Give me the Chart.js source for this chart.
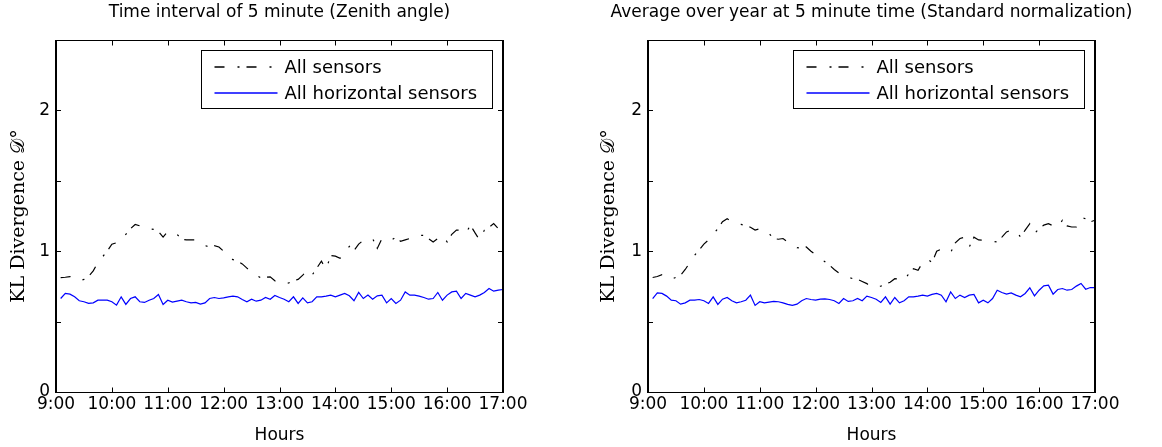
<!DOCTYPE html>
<html>
<head>
<meta charset="utf-8">
<title>KL Divergence over the day</title>
<script src="https://cdn.jsdelivr.net/npm/chart.js@4.4.1/dist/chart.umd.min.js"></script>
<style>
    html, body { margin: 0; padding: 0; background: #fff; }
    body { width: 1162px; height: 447px; position: relative; overflow: hidden; }
    .panel { position: absolute; top: 0; height: 447px; }
    #left-panel { left: 0; width: 559px; }
    #right-panel { left: 590px; width: 563px; }
</style>
</head>
<body>
<div class="panel" id="left-panel"><canvas id="chart-left"></canvas></div>
<div class="panel" id="right-panel"><canvas id="chart-right"></canvas></div>
<script>
// Samples every 5 minutes, first one at 9:05, last one at 17:00
const firstMinute = 545;
const stepMinutes = 5;
const xMin = 540;   // 9:00
const xMax = 1020;  // 17:00

const seriesNames = ['All sensors', 'All horizontal sensors'];
const seriesColors = ['#000000', '#0000ff'];
const panelTitles = [
    'Time interval of 5 minute (Zenith angle)',
    'Average over year at 5 minute time (Standard normalization)'
];
const yLabelTicks = [0, 1, 2];

// Left panel: zenith angle
const zenithAll = [
    0.813, 0.815, 0.820, 0.810, 0.790, 0.800, 0.820, 0.860, 0.920, 0.960,
    1.000, 1.050, 1.060, 1.075, 1.120, 1.160, 1.190, 1.180, 1.160, 1.160,
    1.155, 1.140, 1.100, 1.140, 1.135, 1.120, 1.085, 1.080, 1.080, 1.080,
    1.065, 1.040, 1.030, 1.040, 1.030, 1.000, 0.960, 0.940, 0.930, 0.910,
    0.880, 0.850, 0.830, 0.810, 0.815, 0.818, 0.790, 0.770, 0.770, 0.775,
    0.790, 0.800, 0.830, 0.865, 0.830, 0.880, 0.930, 0.870, 0.970, 0.965,
    0.950, 0.990, 1.035, 1.005, 1.050, 1.078, 1.085, 1.090, 1.020, 1.090,
    1.080, 1.078, 1.100, 1.070, 1.080, 1.090, 1.110, 1.113, 1.113, 1.090,
    1.066, 1.090, 1.113, 1.066, 1.120, 1.150, 1.150, 1.125, 1.185, 1.130,
    1.078, 1.150, 1.170, 1.196, 1.160, 1.160
];
const zenithHorizontal = [
    0.664, 0.700, 0.695, 0.676, 0.648, 0.641, 0.629, 0.633, 0.652, 0.652,
    0.652, 0.641, 0.617, 0.676, 0.622, 0.664, 0.676, 0.641, 0.636, 0.652,
    0.664, 0.693, 0.622, 0.652, 0.638, 0.645, 0.652, 0.641, 0.633, 0.636,
    0.624, 0.633, 0.664, 0.671, 0.664, 0.669, 0.676, 0.681, 0.676, 0.657,
    0.641, 0.659, 0.645, 0.652, 0.671, 0.659, 0.686, 0.671, 0.659, 0.641,
    0.676, 0.629, 0.669, 0.633, 0.641, 0.676, 0.676, 0.681, 0.688, 0.676,
    0.688, 0.700, 0.683, 0.648, 0.707, 0.664, 0.688, 0.659, 0.683, 0.688,
    0.633, 0.664, 0.629, 0.652, 0.711, 0.688, 0.688, 0.681, 0.671, 0.659,
    0.664, 0.707, 0.652, 0.688, 0.711, 0.716, 0.664, 0.700, 0.688, 0.676,
    0.688, 0.707, 0.735, 0.716, 0.723, 0.728
];

// Right panel: yearly average, standard normalization
const yearlyAll = [
    0.813, 0.820, 0.834, 0.820, 0.800, 0.815, 0.830, 0.870, 0.920, 0.970,
    1.010, 1.050, 1.080, 1.120, 1.160, 1.210, 1.230, 1.210, 1.195, 1.190,
    1.180, 1.170, 1.150, 1.160, 1.150, 1.125, 1.090, 1.085, 1.090, 1.065,
    1.050, 1.025, 1.020, 1.030, 1.000, 0.975, 0.950, 0.925, 0.900, 0.870,
    0.845, 0.825, 0.815, 0.805, 0.800, 0.785, 0.770, 0.743, 0.748, 0.752,
    0.765, 0.780, 0.805, 0.800, 0.790, 0.840, 0.875, 0.865, 0.920, 0.945,
    0.920, 1.000, 1.015, 1.005, 0.990, 1.060, 1.090, 1.100, 1.030, 1.100,
    1.080, 1.078, 1.078, 1.070, 1.065, 1.100, 1.137, 1.150, 1.150, 1.100,
    1.150, 1.196, 1.125, 1.160, 1.185, 1.196, 1.180, 1.170, 1.220, 1.180,
    1.172, 1.172, 1.240, 1.230, 1.208, 1.220
];
const yearlyHorizontal = [
    0.664, 0.704, 0.700, 0.681, 0.652, 0.648, 0.624, 0.633, 0.652, 0.652,
    0.657, 0.648, 0.629, 0.676, 0.622, 0.659, 0.671, 0.648, 0.633, 0.641,
    0.652, 0.688, 0.615, 0.641, 0.633, 0.638, 0.643, 0.641, 0.633, 0.622,
    0.615, 0.624, 0.648, 0.664, 0.657, 0.652, 0.659, 0.662, 0.657, 0.648,
    0.629, 0.664, 0.643, 0.648, 0.664, 0.648, 0.681, 0.671, 0.659, 0.636,
    0.676, 0.624, 0.671, 0.633, 0.648, 0.676, 0.676, 0.681, 0.688, 0.681,
    0.693, 0.700, 0.688, 0.641, 0.711, 0.664, 0.688, 0.671, 0.688, 0.693,
    0.633, 0.652, 0.633, 0.664, 0.723, 0.707, 0.695, 0.704, 0.688, 0.676,
    0.700, 0.740, 0.683, 0.723, 0.754, 0.759, 0.695, 0.728, 0.735, 0.723,
    0.728, 0.752, 0.771, 0.730, 0.742, 0.742
];

const SANS = '"DejaVu Sans", "Liberation Sans", Arial, sans-serif';
const SERIF = '"DejaVu Serif", "Liberation Serif", serif';
const TICK_LEN = 5;

// pair each value with its time of day (in minutes)
function toPoints(values) {
    return values.map((v, i) => ({ x: firstMinute + i * stepMinutes, y: v }));
}

function formatHour(value) {
    return Math.floor(value / 60) + ':00';
}

// MATLAB-like frame: full box, inward tick marks, boxed legend in the upper right
const matlabFrame = {
    id: 'matlabFrame',
    afterDraw(chart) {
        const { ctx, chartArea: a, scales } = chart;
        const left = Math.round(a.left);
        const top = Math.round(a.top) + 0.5;
        const right = Math.round(a.right);
        const bottom = Math.round(a.bottom) + 0.5;

        ctx.save();
        ctx.strokeStyle = '#000';

        // horizontal edges thin, vertical edges a bit heavier (like the stretched original)
        ctx.lineWidth = 1;
        ctx.beginPath();
        ctx.moveTo(left - 1, top); ctx.lineTo(right + 1, top);
        ctx.moveTo(left - 1, bottom); ctx.lineTo(right + 1, bottom);
        ctx.stroke();
        ctx.lineWidth = 2;
        ctx.beginPath();
        ctx.moveTo(left, top); ctx.lineTo(left, bottom);
        ctx.moveTo(right, top); ctx.lineTo(right, bottom);
        ctx.stroke();

        ctx.lineWidth = 1;
        ctx.beginPath();
        scales.x.ticks.forEach(t => {
            const px = Math.round(scales.x.getPixelForValue(t.value)) + 0.5;
            ctx.moveTo(px, bottom); ctx.lineTo(px, bottom - TICK_LEN);
            ctx.moveTo(px, top); ctx.lineTo(px, top + TICK_LEN);
        });
        scales.y.ticks.forEach(t => {
            const py = Math.round(scales.y.getPixelForValue(t.value)) + 0.5;
            ctx.moveTo(left, py); ctx.lineTo(left + TICK_LEN, py);
            ctx.moveTo(right, py); ctx.lineTo(right - TICK_LEN, py);
        });
        ctx.stroke();

        // legend box
        const boxW = 291, boxH = 58;
        const bx = right - 10.5 - boxW;
        const by = top + 10;
        ctx.fillStyle = '#fff';
        ctx.fillRect(bx, by, boxW, boxH);
        ctx.lineWidth = 1;
        ctx.strokeRect(bx, by, boxW, boxH);

        ctx.font = '18px ' + SANS;
        ctx.textBaseline = 'middle';
        chart.data.datasets.forEach((ds, i) => {
            const rowY = Math.round(by + 16 + i * 26);
            ctx.beginPath();
            ctx.strokeStyle = seriesColors[i];
            ctx.lineWidth = 1.3;
            ctx.setLineDash(ds.borderDash || []);
            ctx.moveTo(bx + 13, rowY);
            ctx.lineTo(bx + 76, rowY);
            ctx.stroke();
            ctx.setLineDash([]);
            ctx.fillStyle = '#000';
            ctx.fillText(ds.label, bx + 83, rowY + 1);
        });
        ctx.restore();
    }
};

function makeChart(canvasId, title, allValues, horizontalValues, sideWidth) {
    const ctx = document.getElementById(canvasId).getContext('2d');
    return new Chart(ctx, {
        type: 'line',
        data: {
            datasets: [
                {
                    label: seriesNames[0],
                    data: toPoints(allValues),
                    borderColor: seriesColors[0],
                    borderWidth: 1.2,
                    borderDash: [10, 13, 2, 7],
                    pointRadius: 0,
                    fill: false,
                    tension: 0
                },
                {
                    label: seriesNames[1],
                    data: toPoints(horizontalValues),
                    borderColor: seriesColors[1],
                    borderWidth: 1.2,
                    pointRadius: 0,
                    fill: false,
                    tension: 0
                }
            ]
        },
        options: {
            responsive: true,
            maintainAspectRatio: false,
            animation: false,
            layout: { padding: 0 },
            plugins: {
                legend: { display: false },
                tooltip: { enabled: false },
                title: {
                    display: true,
                    text: title,
                    color: '#000',
                    font: { family: SANS, size: 17, weight: 'normal' },
                    padding: { top: 2, bottom: 17.6 }
                }
            },
            scales: {
                x: {
                    type: 'linear',
                    min: xMin,
                    max: xMax,
                    grid: { display: false, drawTicks: false },
                    border: { display: false },
                    ticks: {
                        stepSize: 60,
                        autoSkip: false,
                        maxRotation: 0,
                        padding: 2,
                        color: '#000',
                        font: { family: SANS, size: 17 },
                        callback: formatHour
                    },
                    title: {
                        display: true,
                        text: 'Hours',
                        color: '#000',
                        font: { family: SANS, size: 17 },
                        padding: { top: 0, bottom: 1 }
                    },
                    afterFit: scale => { scale.height = 55; }
                },
                y: {
                    min: 0,
                    max: 2.5,
                    grid: { display: false, drawTicks: false },
                    border: { display: false },
                    ticks: {
                        stepSize: 0.5,
                        autoSkip: false,
                        padding: 6,
                        color: '#000',
                        font: { family: SANS, size: 17 },
                        callback: v => (yLabelTicks.includes(v) ? String(v) : '')
                    },
                    title: {
                        display: true,
                        text: 'KL Divergence 𝒟°',
                        color: '#000',
                        font: { family: SERIF, size: 19 },
                        padding: { top: 8, bottom: 0 }
                    },
                    afterFit: scale => { scale.width = sideWidth; }
                },
                // empty right-hand axis, only reserves the margin so the panel stays centred
                yRight: {
                    position: 'right',
                    min: 0,
                    max: 2.5,
                    grid: { display: false, drawTicks: false },
                    border: { display: false },
                    ticks: { display: false },
                    afterFit: scale => { scale.width = sideWidth; }
                }
            }
        },
        plugins: [matlabFrame]
    });
}

makeChart('chart-left', panelTitles[0], zenithAll, zenithHorizontal, 56);
makeChart('chart-right', panelTitles[1], yearlyAll, yearlyHorizontal, 58);
</script>
</body>
</html>
